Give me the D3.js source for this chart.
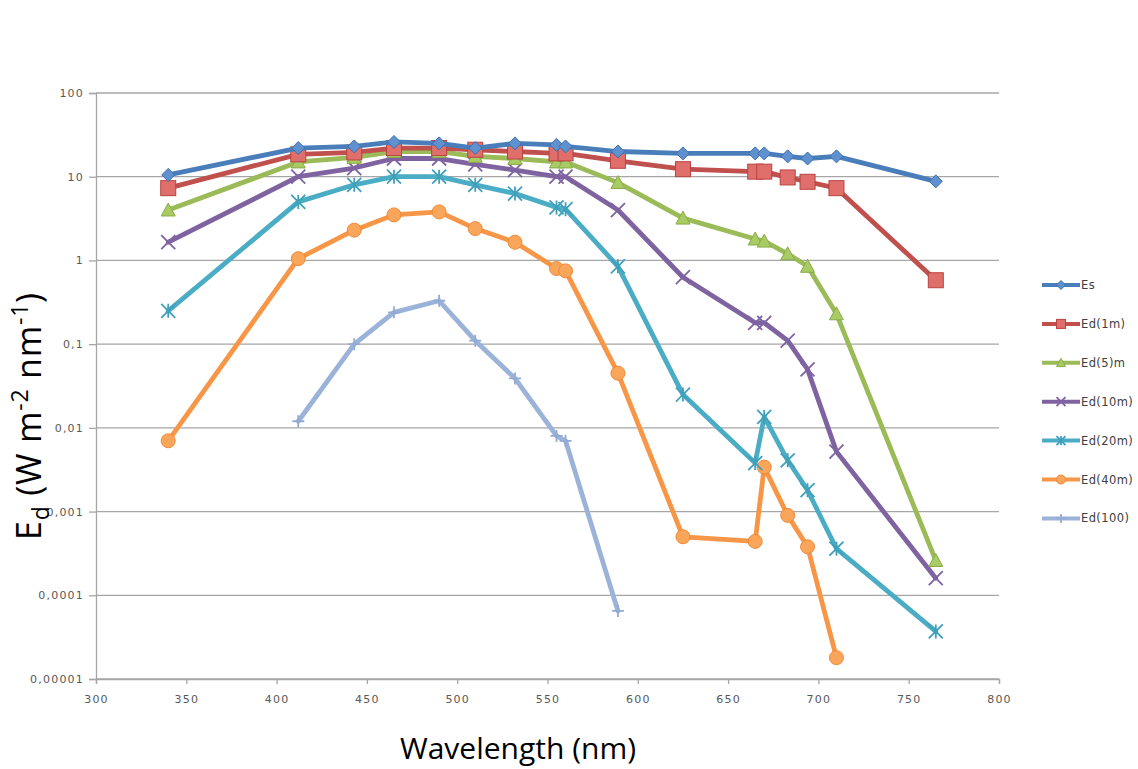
<!DOCTYPE html>
<html>
<head>
<meta charset="utf-8">
<script src="https://cdn.jsdelivr.net/npm/d3@7/dist/d3.min.js"></script>
<style>
  html, body { margin: 0; padding: 0; background: #fff; }
  svg { display: block; }
  .tick-label { font-family: "DejaVu Sans", sans-serif; font-size: 11px; fill: #595959; letter-spacing: 1.2px; }
  .legend-label { font-family: "DejaVu Sans", sans-serif; font-size: 11.5px; fill: #404040; letter-spacing: 0.4px; }
  .axis-title { font-family: "Open Sans", sans-serif; font-size: 30px; fill: #000; }
</style>
</head>
<body>
<svg id="chart" width="1138" height="769"></svg>
<script>
// Wavelengths of the radiometer channels (nm)
const wavelengths = [340, 412, 443, 465, 490, 510, 532, 555, 560, 589, 625, 665, 670, 683, 694, 710, 765];

// Irradiance spectra (W m-2 nm-1); null where a channel has no reading
const es    = [10.5, 22, 23, 26, 25, 22, 25, 24, 23, 20, 19, 19, 19, 17.5, 16.5, 17.5, 8.8];
const ed1   = [7.3, 18.5, 19.5, 22, 22, 21, 20, 19, 19, 15.5, 12.3, 11.5, 11.5, 9.8, 8.7, 7.3, 0.58];
const ed5   = [4.0, 15, 17, 20, 20, 17.5, 16.5, 15, 15, 8.5, 3.2, 1.8, 1.7, 1.2, 0.85, 0.23, 0.00026];
const ed10  = [1.65, 10, 12.7, 16.5, 16.5, 14, 12, 10, 10, 4.0, 0.63, 0.18, 0.18, 0.11, 0.05, 0.0052, 0.00016];
const ed20  = [0.25, 5.0, 8.0, 10, 10, 8.0, 6.3, 4.3, 4.1, 0.85, 0.025, 0.0038, 0.0135, 0.0041, 0.0018, 0.00036, 0.000037];
const ed40  = [0.007, 1.05, 2.3, 3.5, 3.8, 2.4, 1.65, 0.8, 0.75, 0.045, 0.0005, 0.00044, 0.0034, 0.0009, 0.00038, 0.000018, null];
const ed100 = [null, 0.012, 0.1, 0.24, 0.33, 0.11, 0.039, 0.008, 0.007, 0.000065, null, null, null, null, null, null, null];

const seriesNames = ["Es", "Ed(1m)", "Ed(5)m", "Ed(10m)", "Ed(20m)", "Ed(40m)", "Ed(100)"];
const seriesValues = [es, ed1, ed5, ed10, ed20, ed40, ed100];

// Axis ticks
const xTicks = [300, 350, 400, 450, 500, 550, 600, 650, 700, 750, 800];
const yTicks = [100, 10, 1, 0.1, 0.01, 0.001, 0.0001, 0.00001];
const yTickLabels = ["100", "10", "1", "0,1", "0,01", "0,001", "0,0001", "0,00001"];

// Styling per series
const styles = [
  { line: "#4a7ebb", fill: "#5f91d0", stroke: "#3f6fa8", marker: "diamond" },
  { line: "#c0504d", fill: "#e06f6c", stroke: "#b8433f", marker: "square" },
  { line: "#9bbb59", fill: "#a9cb63", stroke: "#8aab48", marker: "triangle" },
  { line: "#7f63a1", fill: "none",    stroke: "#7f63a1", marker: "x" },
  { line: "#4bacc6", fill: "none",    stroke: "#3fa0ba", marker: "star" },
  { line: "#f79646", fill: "#f9a55a", stroke: "#ee8a38", marker: "circle" },
  { line: "#9bb2d9", fill: "none",    stroke: "#93abd4", marker: "plus" }
];

const svg = d3.select("#chart");
const plot = { left: 96, right: 999, top: 93, bottom: 679 };

const x = d3.scaleLinear().domain([300, 800]).range([plot.left, plot.right]);
const y = d3.scaleLog().domain([0.00001, 100]).range([plot.bottom, plot.top]);

// Horizontal gridlines
svg.append("g").selectAll("line").data(yTicks).join("line")
  .attr("x1", plot.left).attr("x2", plot.right)
  .attr("y1", d => y(d)).attr("y2", d => y(d))
  .attr("stroke", "#a6a6a6").attr("stroke-width", 1.3);

// Y axis
const yAxis = d3.axisLeft(y).tickValues(yTicks).tickSize(7)
  .tickFormat((d, i) => yTickLabels[i]);
const gy = svg.append("g").attr("transform", `translate(${plot.left},0)`).call(yAxis);
gy.select(".domain").attr("stroke", "#a6a6a6").attr("stroke-width", 1.3);
gy.selectAll(".tick line").attr("stroke", "#a6a6a6").attr("stroke-width", 1.3);
gy.selectAll(".tick text").attr("class", "tick-label").attr("x", -12).attr("dy", "0.32em")
  .attr("font-family", null).attr("font-size", null).attr("fill", null);

// X axis
const xAxis = d3.axisBottom(x).tickValues(xTicks).tickSize(5).tickFormat(d3.format("d"));
const gx = svg.append("g").attr("transform", `translate(0,${plot.bottom})`).call(xAxis);
gx.select(".domain").attr("stroke", "#a6a6a6").attr("stroke-width", 1.3);
gx.selectAll(".tick line").attr("stroke", "#a6a6a6").attr("stroke-width", 1.3);
gx.selectAll(".tick text").attr("class", "tick-label").attr("y", 16)
  .attr("font-family", null).attr("font-size", null).attr("fill", null);

// Marker drawing helper
function drawMarker(g, kind, s, st) {
  const h = s / 2;
  if (kind === "diamond") {
    g.append("path").attr("d", `M0,${-h}L${h},0L0,${h}L${-h},0Z`)
      .attr("fill", st.fill).attr("stroke", st.stroke).attr("stroke-width", 1);
  } else if (kind === "square") {
    g.append("rect").attr("x", -h).attr("y", -h).attr("width", s).attr("height", s)
      .attr("fill", st.fill).attr("stroke", st.stroke).attr("stroke-width", 1);
  } else if (kind === "triangle") {
    g.append("path").attr("d", `M0,${-h}L${h},${h * 0.85}L${-h},${h * 0.85}Z`)
      .attr("fill", st.fill).attr("stroke", st.stroke).attr("stroke-width", 1);
  } else if (kind === "circle") {
    g.append("circle").attr("r", h)
      .attr("fill", st.fill).attr("stroke", st.stroke).attr("stroke-width", 1);
  } else if (kind === "x") {
    g.append("path").attr("d", `M${-h},${-h}L${h},${h}M${-h},${h}L${h},${-h}`)
      .attr("stroke", st.stroke).attr("stroke-width", 1.8).attr("fill", "none");
  } else if (kind === "star") {
    g.append("path").attr("d", `M${-h},${-h}L${h},${h}M${-h},${h}L${h},${-h}M0,${-h}L0,${h}`)
      .attr("stroke", st.stroke).attr("stroke-width", 1.8).attr("fill", "none");
  } else if (kind === "plus") {
    g.append("path").attr("d", `M${-h},0L${h},0M0,${-h}L0,${h}`)
      .attr("stroke", st.stroke).attr("stroke-width", 1.8).attr("fill", "none");
  }
}

const markerSizes = { diamond: 13, square: 15, triangle: 14, circle: 14, x: 14, star: 14, plus: 12 };

const line = d3.line()
  .defined(d => d.v !== null)
  .x(d => x(d.w))
  .y(d => y(d.v));

// Series lines with markers (drawn so the first series ends up on top)
const layer = svg.append("g");
for (let i = seriesValues.length - 1; i >= 0; i--) {
  const pts = wavelengths.map((w, k) => ({ w, v: seriesValues[i][k] }));
  const st = styles[i];
  const g = layer.append("g");
  g.append("path").datum(pts).attr("d", line)
    .attr("fill", "none").attr("stroke", st.line).attr("stroke-width", 4.8)
    .attr("stroke-linejoin", "round").attr("stroke-linecap", "round");
  pts.filter(d => d.v !== null).forEach(d => {
    const m = g.append("g").attr("transform", `translate(${x(d.w)},${y(d.v)})`);
    drawMarker(m, st.marker, markerSizes[st.marker], st);
  });
}

// Legend
const legend = svg.append("g");
seriesNames.forEach((name, i) => {
  const ly = 285 + i * 38.9;
  const st = styles[i];
  const g = legend.append("g").attr("transform", `translate(0,${ly})`);
  g.append("line").attr("x1", 1042).attr("x2", 1080).attr("y1", 0).attr("y2", 0)
    .attr("stroke", st.line).attr("stroke-width", 4);
  const m = g.append("g").attr("transform", "translate(1061,0)");
  drawMarker(m, st.marker, 9, st);
  g.append("text").attr("class", "legend-label").attr("x", 1081).attr("y", 0)
    .attr("dy", "0.35em").text(name);
});

// Axis titles
svg.append("text").attr("class", "axis-title")
  .attr("x", 518).attr("y", 759)
  .attr("text-anchor", "middle").text("Wavelength (nm)");

const yt = svg.append("text").attr("class", "axis-title")
  .attr("transform", "translate(41,416) rotate(-90)")
  .attr("text-anchor", "middle")
  .style("font-size", "34px").style("letter-spacing", "0.8px");
yt.append("tspan").text("E");
yt.append("tspan").attr("font-size", "23px").attr("dy", 8).text("d");
yt.append("tspan").attr("dy", -8).text(" (W m");
yt.append("tspan").attr("font-size", "23px").attr("dy", -13).text("-2");
yt.append("tspan").attr("dy", 13).text(" nm");
yt.append("tspan").attr("font-size", "23px").attr("dy", -13).text("-1");
yt.append("tspan").attr("dy", 13).text(")");
</script>
</body>
</html>
